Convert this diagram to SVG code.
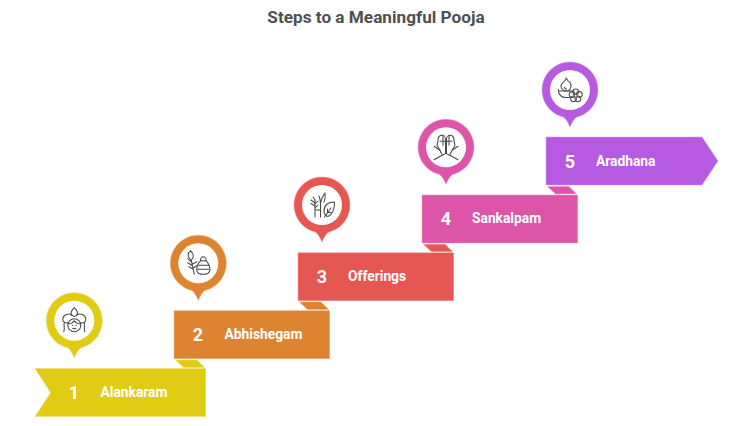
<svg xmlns="http://www.w3.org/2000/svg" width="738" height="426" viewBox="0 0 738 426">
<style>
text{font-family:Roboto,"Liberation Sans",sans-serif;font-weight:700}
.title{font-size:17.2px;fill:#505050;text-anchor:middle}
.num{font-size:18px;fill:#fff;text-anchor:middle}
.lbl{font-size:13.8px;fill:#fff}
.ic{fill:none;stroke:#4a4a4a;stroke-width:1.05;stroke-linecap:round;stroke-linejoin:round}
.y{fill:#e0cb15;stroke:#ecdf6b}.o{fill:#de8431;stroke:#ecb07c}.r{fill:#e55753;stroke:#f09a97}.p{fill:#dc55a8;stroke:#ea98ca}.v{fill:#b75ae2;stroke:#d49bee}
.y,.o,.r,.p,.v{stroke-width:.5}
.hole{fill:#fff}
</style>
<defs>
<path id="pin" d="M-6.5,27.2A28 28 0 1 1 6.5,27.2Q3.5,29 0,37Q-3.5,29 -6.5,27.2Z"/>
<path id="fold" d="M0,0H21.5L29,7.5H8Z"/>
</defs>
<text class="title" x="376" y="22.500">Steps to a Meaningful Pooja</text>
<g id="connectors">
<use href="#fold" class="y" x="175.5" y="360"/>
<use href="#fold" class="o" x="299.5" y="302"/>
<use href="#fold" class="r" x="423.5" y="244.2"/>
<use href="#fold" class="p" x="547.5" y="186.4"/>
</g>
<g id="step1">
<path class="y" d="M35,368.6H205.7V416.6H35L50.7,392.6Z"/>
<text class="num" x="74" y="399">1</text>
<text class="lbl" x="100.5" y="397">Alankaram</text>
<use href="#pin" class="y" x="74.3" y="320.7"/>
<circle class="hole" cx="74.3" cy="320.7" r="20"/>
<g class="ic" transform="translate(74.3 320.7)">
<path d="M-2.5,-5.5C-4.5,-8 -2,-11 0,-13C2,-11 4.5,-8 2.5,-5.5"/>
<path d="M-2.5,-5.5C-5,-8 -11,-6 -11.5,-2C-12,1 -9,3 -6.5,2"/>
<path d="M2.5,-5.5C5,-8 11,-6 11.5,-2C12,1 9,3 6.5,2"/>
<path d="M-2.5,-5.5C-1,-4 1,-4 2.5,-5.5"/>
<circle cx="0" cy="4.5" r="6.5"/>
<path d="M-6,3C-3,3 -1,1.5 0,0C1,1.5 3,3 6,3"/>
<path d="M-10,2C-11,5 -9,7 -10.5,11M10,2C11,5 9,7 10.5,11"/>
<path d="M-2,4.5h.5M1.5,4.5h.5M-1.5,7.5Q0,8.5 1.5,7.5"/>
</g>
</g>
<g id="step2">
<rect class="o" x="174" y="310.7" width="155.7" height="48"/>
<text class="num" x="198" y="341">2</text>
<text class="lbl" x="224.5" y="339">Abhishegam</text>
<use href="#pin" class="o" x="198.3" y="263.3"/>
<circle class="hole" cx="198.3" cy="263.3" r="20"/>
<g class="ic" transform="translate(198.3 263.3)">
<path d="M-8,-12.5C-11,-10 -11,-6 -7,-3C-4,-6 -4.5,-10 -8,-12.5Z"/>
<path d="M-7,-3L-4,11M-10.5,-4.5L-6.5,-1M-10.5,-.5L-5.8,2.5M-9.5,3.5L-5,6M-1.5,-1.5L-6.2,1M-1.5,2.5L-5.3,5"/>
<path d="M5,-6.5C2.5,-6.5 1.5,-3 2.5,-2.5C.5,-1.5 -2,3 -1.5,7C-1,10 1,11 5,11C9,11 11,10 11.5,7C12,3 9.5,-1.5 7.5,-2.5C8.5,-3 7.5,-6.5 5,-6.5Z"/>
<path d="M2.5,-2.5H7.5M-.5,2H10.5M-1.5,6H11.5"/>
</g>
</g>
<g id="step3">
<rect class="r" x="298" y="252.8" width="155.7" height="48"/>
<text class="num" x="322" y="283">3</text>
<text class="lbl" x="348" y="281">Offerings</text>
<use href="#pin" class="r" x="322" y="205"/>
<circle class="hole" cx="322" cy="205" r="20"/>
<g class="ic" transform="translate(322 205)">
<path d="M-7,-5V12M-1.5,12V1C-1.5,-3 0,-8 3,-12C3.5,-8 3,-5 2,-3M-1.5,1C-1.500,-3 -2,-7 -3,-9M-7,5H-1.5"/>
<path d="M-7,1L-11,-1.5M-7,-2L-11,-5M-7,3L-4,0M-7,-1L-4,-4M-7,-5L-9,-8"/>
<path d="M12.5,-3C6,-3 2,0 2,6C2,9 4,11 6,11.5C10,10 13,4 12.5,-3Z"/>
<path d="M2.5,12L9,3M5.5,7.5V4M5.5,7.5H9"/>
</g>
</g>
<g id="step4">
<rect class="p" x="422" y="195" width="155.7" height="48"/>
<text class="num" x="446" y="225">4</text>
<text class="lbl" x="472" y="223">Sankalpam</text>
<use href="#pin" class="p" x="446" y="147.3"/>
<circle class="hole" cx="446" cy="147.3" r="20"/>
<g class="ic" transform="translate(446 147.3)">
<path d="M-.5,6V-8C-.5,-10 -2,-12 -4,-12C-6.5,-12 -8,-10 -8,-7L-9,-2L-5,5"/>
<path d="M.5,6V-8C.5,-10 2,-12 4,-12C6.5,-12 8,-10 8,-7L9,-2L5,5"/>
<path d="M-3,-12V-2M3,-12V-2M-6,-6H6M-5,5C-4,8 -2,8 -.5,6M5,5C4,8 2,8 .5,6"/>
<path d="M-12,-1L-6,3M12,-1L6,3M-12,12.5L-3,7.5M12,12.5L3,7.5"/>
</g>
</g>
<g id="step5">
<path class="v" d="M546,137H702L718,161L702,185H546Z"/>
<text class="num" x="570" y="167.5">5</text>
<text class="lbl" x="596" y="165.5">Aradhana</text>
<use href="#pin" class="v" x="570" y="90"/>
<circle class="hole" cx="570" cy="90" r="20"/>
<g class="ic" transform="translate(570 90)">
<path d="M-4,-12C-3,-9 -9,-8 -9,-4C-9,-1 -6.500,1 -4,1C-1,1 1,-1 1,-4C1,-7 -1,-9 -2,-9C-2,-10 -3,-11 -4,-12Z"/>
<path d="M-5.500,-3C-5.500,-1.500 -4.500,-1 -3.500,-1"/>
<path d="M-11.500,-.5V1H4M-11.500,1C-11.500,5 -8,7.500 -4,7.500H-.5"/>
<g transform="translate(5.700 5.700)">
<circle cx="0" cy="-3.800" r="2.900"/><circle cx="3.600" cy="-1.200" r="2.900"/><circle cx="2.200" cy="3.100" r="2.900"/><circle cx="-2.200" cy="3.100" r="2.900"/><circle cx="-3.600" cy="-1.200" r="2.900"/>
<circle r="1.600" fill="#fff"/>
</g>
</g>
</g>
</svg>
